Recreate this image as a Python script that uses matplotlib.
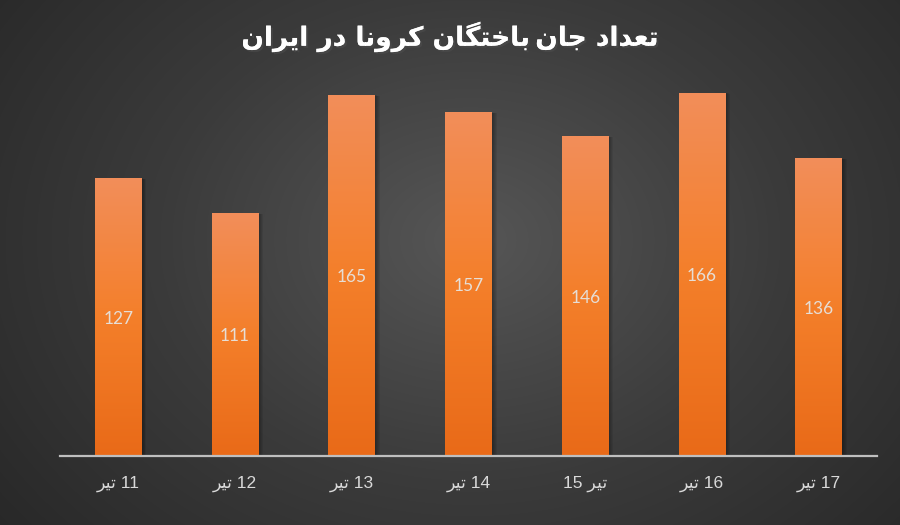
import numpy as np
import matplotlib
matplotlib.use("Agg")
import matplotlib.pyplot as plt
from matplotlib import patheffects as pe
from matplotlib.colors import LinearSegmentedColormap

# ---- data ----
day_numbers = ["11", "12", "13", "14", "15", "16", "17"]
deaths = [127, 111, 165, 157, 146, 166, 136]
# Persian word "تیر" in shaped presentation forms, visual (left-to-right) order
tir = "\uFEAE\uFEF4\uFE97"
tick_labels = [tir + " 11", tir + " 12", tir + " 13", tir + " 14",
               "15 " + tir, tir + " 16", tir + " 17"]
# Title "تعداد جان‌باختگان کرونا در ایران" shaped (logical order), reversed for display
title_logical = ("\uFE97\uFECC\uFEAA\uFE8D\uFEA9" + " " +
                 "\uFE9F\uFE8E\uFEE5\u2009\uFE91\uFE8E\uFEA7\uFE98\uFB95\uFE8E\uFEE5" + " " +
                 "\uFB90\uFEAE\uFEED\uFEE7\uFE8E" + " " +
                 "\uFEA9\uFEAD" + " " +
                 "\uFE8D\uFEF3\uFEAE\uFE8D\uFEE5")
title_text = title_logical[::-1]

fam = ["Liberation Sans", "DejaVu Sans"]

fig = plt.figure(figsize=(9, 5.25), dpi=100)

# background radial gradient
bg = fig.add_axes([0, 0, 1, 1], zorder=-10)
yy, xx = np.mgrid[0:525, 0:900]
r = np.sqrt(((xx - 470) / 620.0) ** 2 + ((yy - 240) / 480.0) ** 2)
r = np.clip(r, 0, 1)
bgcmap = LinearSegmentedColormap.from_list("bg", ["#565656", "#3b3b3b", "#272727"])
bg.imshow(r, cmap=bgcmap, vmin=0, vmax=1, aspect="auto", extent=[0, 1, 0, 1],
          origin="upper", interpolation="bilinear")
bg.set_axis_off()

ax = fig.add_axes([60 / 900, (525 - 456) / 525, 817 / 900, (456 - 62) / 525])
ax.patch.set_alpha(0)
x = np.arange(len(deaths))
bars = ax.bar(x, deaths, width=0.40, color="#F47F2A", zorder=3)
ax.set_xlim(-0.5, len(deaths) - 0.5)
ax.set_ylim(0, 180)

barcmap = LinearSegmentedColormap.from_list("bar", ["#E96A18", "#F47F2A", "#F28E5A"])
grad = np.linspace(0, 1, 256).reshape(-1, 1)
for b in bars:
    x0, w, h = b.get_x(), b.get_width(), b.get_height()
    # soft shadow
    for k in range(1, 6):
        ax.bar(x0 + w / 2 + 0.008 * k, h + 0.3 * (6 - k) * 0.2, width=w, bottom=-0.5,
               color="black", alpha=0.07, zorder=2, linewidth=0)
    im = ax.imshow(grad, cmap=barcmap, aspect="auto", origin="lower",
                   extent=[x0, x0 + w, 0, h], zorder=4, interpolation="bilinear")
    im.set_clip_path(b)
    ax.text(x0 + w / 2, h / 2 - 0.8, f"{int(h)}", ha="center", va="center",
            color="#E6DED6", fontsize=12.5, family=["Lato", "DejaVu Sans"], zorder=5)

ax.set_xticks(x)
ax.set_xticklabels(tick_labels, family=fam, fontsize=12.5, color="#D9D9D9")
ax.tick_params(axis="x", length=0, pad=14)
ax.set_yticks([])
for s in ["top", "right", "left"]:
    ax.spines[s].set_visible(False)
ax.spines["bottom"].set_color("#BFBFBF")
ax.spines["bottom"].set_linewidth(1.6)
ax.spines["bottom"].set_zorder(6)

fig.text(0.5, 1 - 37 / 525, title_text, ha="center", va="center", color="white",
         fontsize=19, fontweight="bold", family=["DejaVu Sans"],
         path_effects=[pe.withSimplePatchShadow(offset=(1.5, -1.5), alpha=0.6),
                       pe.Normal()])

fig.savefig("out.png", dpi=100)
